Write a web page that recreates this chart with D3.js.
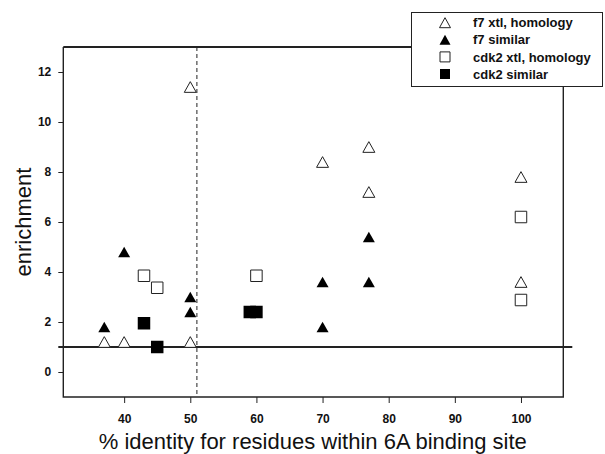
<!DOCTYPE html>
<html>
<head>
<meta charset="utf-8">
<script src="https://cdn.jsdelivr.net/npm/d3@7"></script>
<style>
  body { margin: 0; background: #fff; }
  svg { display: block; font-family: "Liberation Sans", Arial, sans-serif; }
</style>
</head>
<body>
<div id="chart"></div>
<script>
// series values
const f7XtlX = [37, 40, 50, 50, 70, 77, 77, 100, 100]
const f7XtlY = [1.2, 1.2, 1.2, 11.4, 8.4, 9.0, 7.2, 7.8, 3.6]
const f7SimX = [37, 40, 50, 50, 70, 70, 77, 77]
const f7SimY = [1.8, 4.8, 3.0, 2.4, 3.6, 1.8, 5.4, 3.6]
const cdkXtlX = [43, 45, 60, 100, 100]
const cdkXtlY = [3.85, 3.37, 3.85, 6.2, 2.88]
const cdkSimX = [43, 45, 59, 60]
const cdkSimY = [1.95, 1.0, 2.4, 2.4]

const xTicks = [40, 50, 60, 70, 80, 90, 100]
const yTicks = [0, 2, 4, 6, 8, 10, 12]
const legendLabels = ['f7 xtl, homology', 'f7 similar', 'cdk2 xtl, homology', 'cdk2 similar']
const cutoffX = 51
const baselineY = 1

const width = 605
const height = 454
const ink = '#222'

const svg = d3.select('#chart').append('svg')
    .attr('width', width)
    .attr('height', height)

const x = d3.scaleLinear().domain([30.8, 106.4]).range([63.3, 563.3])
const y = d3.scaleLinear().domain([-1, 13]).range([397, 47])

// marker shapes
const triangle = (w, h) => `M0,${-h / 2}L${w / 2},${h / 2}L${-w / 2},${h / 2}Z`
const square = s => `M${-s / 2},${-s / 2}h${s}v${s}h${-s}Z`

const series = [
    { xs: f7XtlX, ys: f7XtlY, path: triangle(12, 10.7), fill: '#fff' },
    { xs: f7SimX, ys: f7SimY, path: triangle(12, 10.7), fill: '#000' },
    { xs: cdkXtlX, ys: cdkXtlY, path: square(11.5), fill: '#fff' },
    { xs: cdkSimX, ys: cdkSimY, path: square(12.5), fill: '#000' }
]

// axes
const xAxis = svg.append('g')
    .attr('transform', `translate(0,${y.range()[0]})`)
    .call(d3.axisBottom(x).tickValues(xTicks).tickSize(6).tickPadding(11))
const yAxis = svg.append('g')
    .attr('transform', `translate(${x.range()[0]},0)`)
    .call(d3.axisLeft(y).tickValues(yTicks).tickSize(5).tickPadding(7))

;[xAxis, yAxis].forEach(g => {
    g.select('.domain').remove()
    g.selectAll('line').attr('stroke', ink)
    g.selectAll('text')
        .attr('fill', '#111')
        .style('font-size', '12px')
        .style('font-weight', 'bold')
        .style('font-family', '"Liberation Sans", Arial, sans-serif')
})

// dashed cutoff and baseline reference
svg.append('line')
    .attr('x1', x(cutoffX)).attr('x2', x(cutoffX))
    .attr('y1', y.range()[1]).attr('y2', y.range()[0])
    .attr('stroke', ink)
    .attr('stroke-width', 1)
    .attr('stroke-dasharray', '4,3')

svg.append('line')
    .attr('x1', x.range()[0] - 5).attr('x2', x.range()[1] + 9)
    .attr('y1', y(baselineY)).attr('y2', y(baselineY))
    .attr('stroke', ink)
    .attr('stroke-width', 2)

// points
series.forEach(s => {
    svg.append('g')
        .selectAll('path')
        .data(s.xs.map((v, i) => [v, s.ys[i]]))
        .join('path')
        .attr('transform', d => `translate(${x(d[0])},${y(d[1])})`)
        .attr('d', s.path)
        .attr('fill', s.fill)
        .attr('stroke', s.fill === '#000' ? 'none' : ink)
        .attr('stroke-width', 1)
})

// plot box
const [x0, x1] = x.range()
const [y0, y1] = y.range()
svg.append('line').attr('x1', x0).attr('x2', x1).attr('y1', y1).attr('y2', y1)
    .attr('stroke', ink).attr('stroke-width', 2)
svg.append('path')
    .attr('d', `M${x1},${y1}V${y0}H${x0}V${y1}`)
    .attr('fill', 'none')
    .attr('stroke', ink)
    .attr('stroke-width', 1.4)

// legend
const legend = svg.append('g')
legend.append('rect')
    .attr('x', 411.5).attr('y', 12.5)
    .attr('width', 191).attr('height', 74)
    .attr('fill', '#fff')
    .attr('stroke', ink)
    .attr('stroke-width', 1)

const legendItems = legend.selectAll('g.item')
    .data(legendLabels)
    .join('g')
    .attr('class', 'item')
    .attr('transform', (d, i) => `translate(445,${22.7 + i * 17.1})`)

legendItems.append('path')
    .attr('d', (d, i) => i < 2 ? triangle(11, 10) : square(10))
    .attr('fill', (d, i) => series[i].fill)
    .attr('stroke', (d, i) => series[i].fill === '#000' ? 'none' : ink)
    .attr('stroke-width', 1)

legendItems.append('text')
    .attr('x', 28)
    .attr('y', 4.6)
    .attr('fill', '#111')
    .style('font-size', '13px')
    .style('font-weight', 'bold')
    .text(d => d)

// axis titles
svg.append('text')
    .attr('x', (x0 + x1) / 2 - 0.5)
    .attr('y', 449)
    .attr('text-anchor', 'middle')
    .attr('fill', '#111')
    .style('font-size', '22px')
    .text('% identity for residues within 6A binding site')

svg.append('text')
    .attr('transform', `translate(31,${(y0 + y1) / 2}) rotate(-90)`)
    .attr('text-anchor', 'middle')
    .attr('fill', '#111')
    .style('font-size', '22px')
    .text('enrichment')
</script>
</body>
</html>
